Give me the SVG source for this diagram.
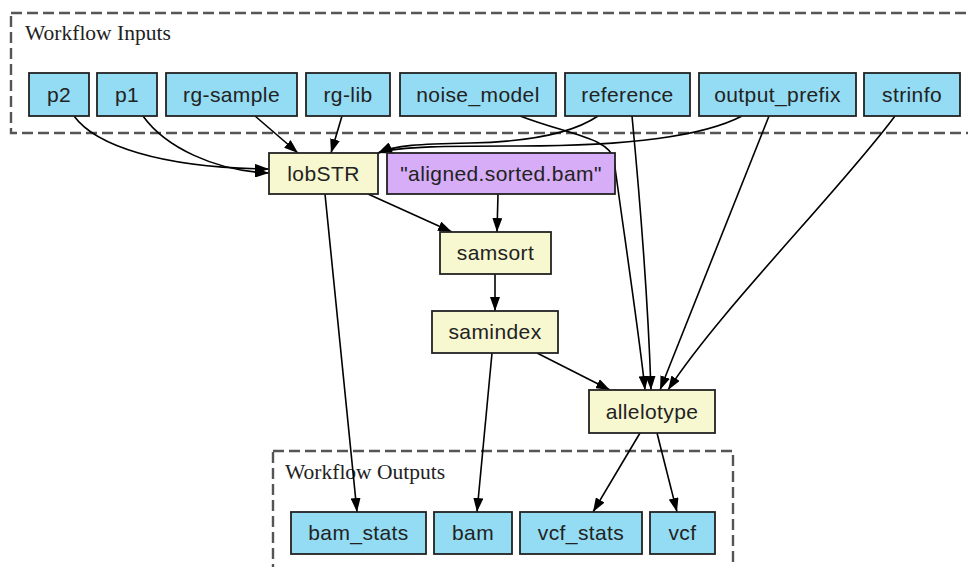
<svg xmlns="http://www.w3.org/2000/svg" width="968" height="567" viewBox="0 0 968 567">
<style>
.cl{fill:none;stroke:#555;stroke-width:2.4;stroke-dasharray:11,5}
.ct{font-family:"Liberation Serif",serif;font-size:21.5px;fill:#222}
.n rect{stroke:#222;stroke-width:1.8}
.io rect{fill:#93dcf3}
.tool rect{fill:#f7f7d0}
.str rect{fill:#d6adf6}
.n text{font-family:"Liberation Sans",Arial,sans-serif;font-size:21px;fill:#222;text-anchor:middle;letter-spacing:0.4px}
.e path{fill:none;stroke:#000;stroke-width:1.6;marker-end:url(#ah)}
</style>
<defs>
<marker id="ah" viewBox="0 0 14 10" refX="14" refY="5" markerWidth="14" markerHeight="10" markerUnits="userSpaceOnUse" orient="auto">
<path d="M0,0 L14,5 L0,10 z" fill="#000"/>
</marker>
</defs>
<rect width="968" height="567" fill="#fff"/>
<g id="cluster_inputs">
<rect class="cl" x="11" y="13" width="975" height="120"/>
<text class="ct" x="25" y="40">Workflow Inputs</text>
</g>
<g id="cluster_outputs">
<rect class="cl" x="273" y="451" width="460" height="130"/>
<text class="ct" x="285" y="479">Workflow Outputs</text>
</g>
<g id="connectors" class="e">
<path d="M74,116 C95,145 160,168 269,169"/>
<path d="M143,116 C165,147 215,171 269,173"/>
<path d="M255,116 L298,153"/>
<path d="M342,116 L331,153"/>
<path d="M598,116 C570,135 520,142 470,143 C420,144 395,145 378,153"/>
<path d="M742,116 C700,138 620,146 520,146 C450,146 400,146 378,153"/>
<path d="M520,116 C570,135 610,138 614,160 C622,220 640,340 645,390"/>
<path d="M632,116 C640,200 648,300 651,390"/>
<path d="M769,116 L660,390"/>
<path d="M895,116 C840,190 720,310 668,390"/>
<path d="M368,194 L452,232"/>
<path d="M498,194 L497,232"/>
<path d="M495,274 L495,311"/>
<path d="M537,353 L610,390"/>
<path d="M325,194 L357,512"/>
<path d="M492,353 L477,512"/>
<path d="M640,433 L593,512"/>
<path d="M657,433 L677,512"/>
</g>
<g id="p2" class="n io"><rect x="29" y="73" width="60" height="43"/><text x="59" y="102">p2</text></g>
<g id="p1" class="n io"><rect x="97" y="73" width="60" height="43"/><text x="127" y="102">p1</text></g>
<g id="rg-sample" class="n io"><rect x="166" y="73" width="131" height="43"/><text x="231.5" y="102">rg-sample</text></g>
<g id="rg-lib" class="n io"><rect x="306" y="73" width="84" height="43"/><text x="348" y="102">rg-lib</text></g>
<g id="noise_model" class="n io"><rect x="400" y="73" width="156" height="43"/><text x="478" y="102">noise_model</text></g>
<g id="reference" class="n io"><rect x="565" y="73" width="125" height="43"/><text x="627.5" y="102">reference</text></g>
<g id="output_prefix" class="n io"><rect x="699" y="73" width="157" height="43"/><text x="777.5" y="102">output_prefix</text></g>
<g id="strinfo" class="n io"><rect x="864" y="73" width="96" height="43"/><text x="912" y="102">strinfo</text></g>
<g id="lobSTR" class="n tool"><rect x="269" y="153" width="109" height="41"/><text x="323.5" y="181">lobSTR</text></g>
<g id="aligned" class="n str"><rect x="387" y="153" width="228" height="41"/><text x="501" y="181">"aligned.sorted.bam"</text></g>
<g id="samsort" class="n tool"><rect x="440" y="232" width="111" height="42"/><text x="495.5" y="260">samsort</text></g>
<g id="samindex" class="n tool"><rect x="432" y="311" width="126" height="42"/><text x="495" y="339">samindex</text></g>
<g id="allelotype" class="n tool"><rect x="589" y="390" width="126" height="43"/><text x="652" y="419">allelotype</text></g>
<g id="bam_stats" class="n io"><rect x="291" y="512" width="135" height="42"/><text x="358.5" y="540">bam_stats</text></g>
<g id="bam" class="n io"><rect x="434" y="512" width="78" height="42"/><text x="473" y="540">bam</text></g>
<g id="vcf_stats" class="n io"><rect x="520" y="512" width="122" height="42"/><text x="581" y="540">vcf_stats</text></g>
<g id="vcf" class="n io"><rect x="650" y="512" width="65" height="42"/><text x="682.5" y="540">vcf</text></g>
</svg>
